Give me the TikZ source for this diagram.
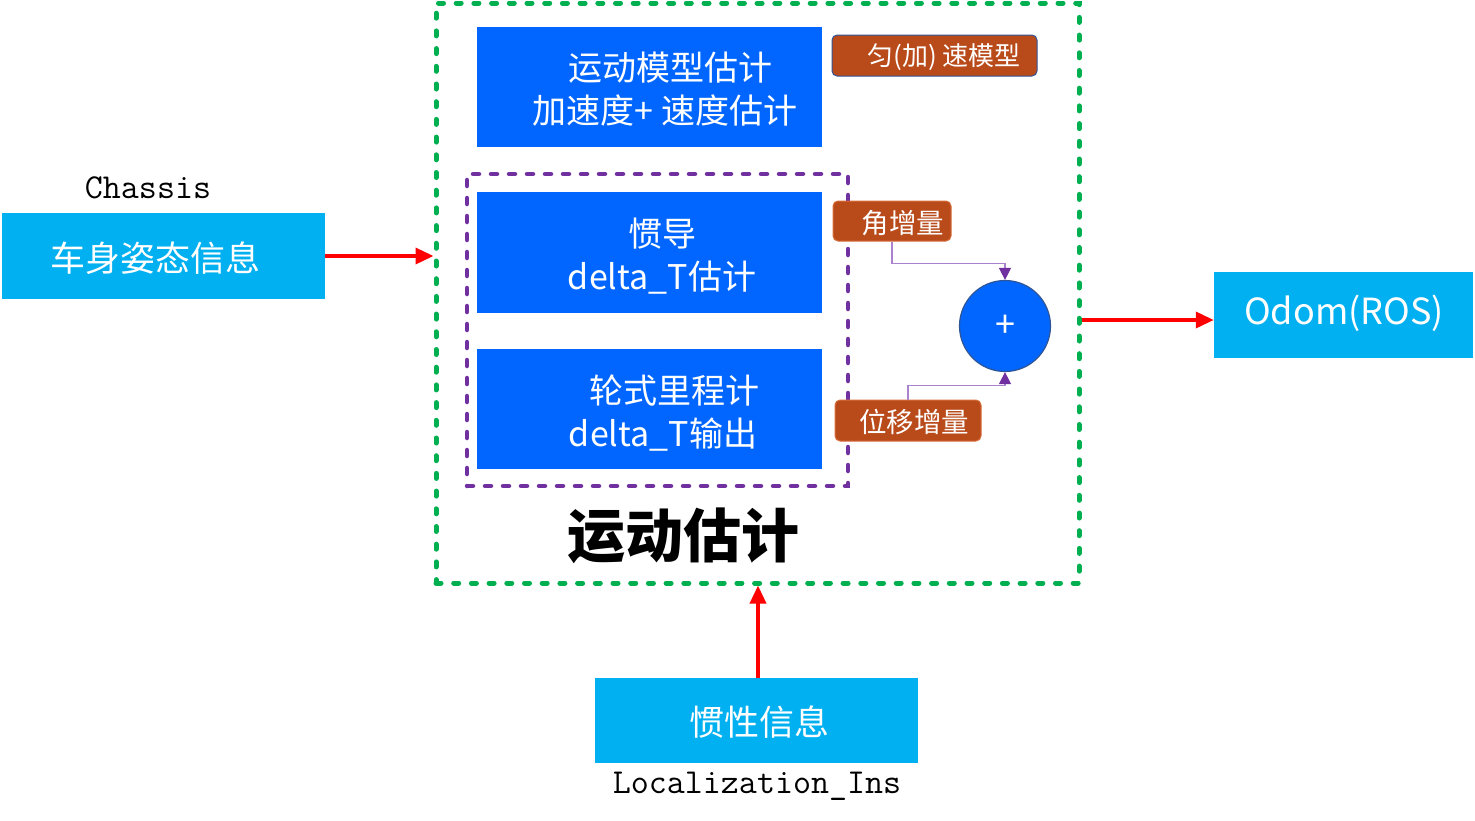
\documentclass[tikz,border=0pt]{standalone}
\usepackage{fontspec}
\setmainfont{Noto Sans CJK SC}
\usetikzlibrary{arrows.meta}
\definecolor{bblue}{HTML}{0066FF}
\definecolor{lblue}{HTML}{00B0F0}
\definecolor{orng}{RGB}{185,74,26}
\definecolor{orngb}{RGB}{215,110,60}
\definecolor{grn}{RGB}{0,176,80}
\definecolor{purp}{HTML}{7030A0}
\definecolor{lpurp}{RGB}{170,130,205}
\definecolor{dblue}{RGB}{47,85,151}
\tikzset{
  bbox/.style={fill=bblue, inner sep=0, minimum width=345, minimum height=120},
  lbox/.style={fill=lblue, inner sep=0, minimum height=86},
  wtxt/.style={text=white, align=center, inner sep=0},
  tag/.style={fill=orng, draw=orngb, line width=1, rounded corners=5, inner sep=0, minimum height=40},
  redarr/.style={draw=red, line width=3.5, -{Triangle[length=18pt,width=16pt]}},
  conn/.style={draw=lpurp, line width=1.2, -{Triangle[length=12pt,width=12pt,color=purp,fill=purp]}},
}
\begin{document}
\begin{tikzpicture}[x=1pt,y=-1pt]
\useasboundingbox (0,0) rectangle (1475,820);
% outer green dashed box
\node[draw=grn, line width=5, dash pattern=on 5pt off 12.7pt, line cap=round, minimum width=643, minimum height=580, inner sep=0] (outer) at (757.5,293) {};
% purple dashed box
\node[draw=purp, line width=4.5, dash pattern=on 6pt off 12pt, line cap=round, minimum width=381, minimum height=312, inner sep=0] (inner) at (657.5,330) {};
% blue boxes
\node[bbox] (model) at (649.5,87) {};
\node[wtxt, font=\fontsize{34}{43}\selectfont] (modelt) at (665,89) {\,\,运动模型估计\\加速度+ 速度估计};
\node[bbox, minimum height=121] (imu) at (649.5,252.5) {};
\node[wtxt, font=\fontsize{34}{43}\selectfont] (imut) at (662,256) {惯导\\delta\_T估计};
\node[bbox] (odo) at (649.5,409) {};
\node[wtxt, font=\fontsize{34}{43}\selectfont] (odot) at (663,413) {\,\,\,\,轮式里程计\\delta\_T输出};
% tags
\node[tag, draw=dblue, minimum width=205, minimum height=41] (model2) at (934.5,55.5) {};
\node[wtxt, font=\fontsize{26}{30}\selectfont] (model2t) at (944,57) {匀(加) 速模型};
\node[tag, minimum width=118] (jiao) at (892,221) {};
\node[wtxt, font=\fontsize{27.5}{30}\selectfont] (jiaot) at (903,223) {角增量};
\node[tag, minimum width=146, minimum height=41] (wei) at (908,420.5) {};
\node[wtxt, font=\fontsize{27.5}{30}\selectfont] (weit) at (914,422) {位移增量};
% sum circle
\node[circle, fill=bblue, draw=dblue, line width=1.2, minimum size=91, inner sep=0, text=white, font=\fontsize{36}{40}\selectfont] (sum) at (1005,326) {+};
\draw[conn] (jiao.south) -- ++(0,22) -| (sum.north);
\draw[conn] (wei.north) -- ++(0,-14) -| (sum.south);
% title
\node[font=\fontsize{58}{60}\selectfont\bfseries, inner sep=0] (title) at (683,536) {运动估计};
% inputs / outputs
\node[lbox, minimum width=323] (chassis) at (163.5,256) {};
\node[wtxt, font=\fontsize{35}{40}\selectfont] (chassist) at (155,258) {车身姿态信息};
\node[font=\ttfamily\fontsize{35}{36}\selectfont, inner sep=0] (chassisl) at (148,188) {Chassis};
\node[lbox, minimum width=259] (odom) at (1343.5,315) {};
\node[wtxt, font=\fontsize{36}{40}\selectfont] (odomt) at (1344,313) {Odom(ROS)};
\node[lbox, minimum width=323, minimum height=85] (ins) at (756.5,720.5) {};
\node[wtxt, font=\fontsize{35}{40}\selectfont] (inst) at (759,722) {惯性信息};
\node[font=\ttfamily\fontsize{35}{36}\selectfont, inner sep=0] (insl) at (757,786) {Localization\_Ins};
% arrows
\draw[redarr] (chassis.east) -- (chassis.east -| outer.west);
\draw[redarr] ([yshift=-5]outer.east |- odom.west) -- ([yshift=-5]odom.west);
\draw[redarr] ([xshift=1.5]ins.north) -- ([xshift=1.5]ins.north |- outer.south);
\end{tikzpicture}
\end{document}
